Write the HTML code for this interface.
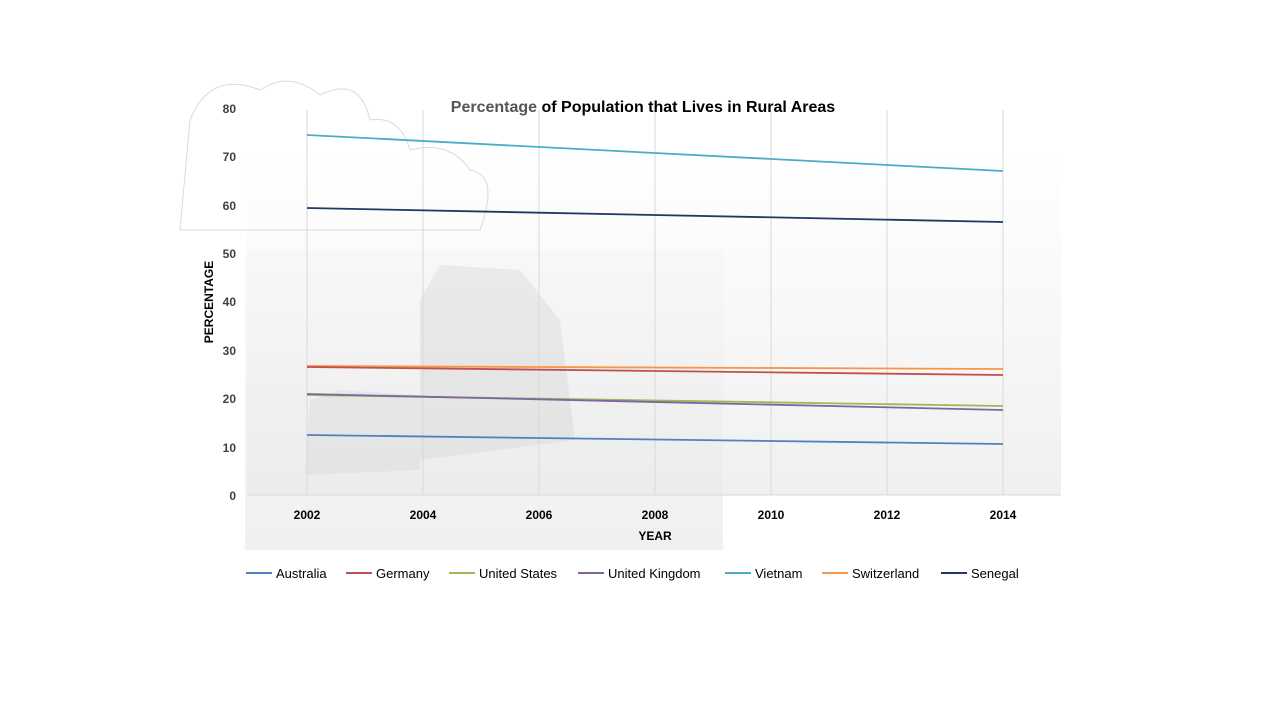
<!DOCTYPE html>
<html><head><meta charset="utf-8"><style>
body{margin:0;width:1280px;height:720px;background:#fff;overflow:hidden;font-family:"Liberation Sans",sans-serif}
</style></head><body>
<svg width="1280" height="720" xmlns="http://www.w3.org/2000/svg" font-family="Liberation Sans, sans-serif">
<defs>
<linearGradient id="bg" x1="0" y1="0" x2="0" y2="1">
<stop offset="0" stop-color="#ffffff"/><stop offset="1" stop-color="#f0f0f0"/>
</linearGradient>
<linearGradient id="sk" x1="0" y1="0" x2="0" y2="1">
<stop offset="0" stop-color="#f6f6f6"/><stop offset="1" stop-color="#e6e6e6"/>
</linearGradient>
</defs>
<rect x="247" y="150" width="814" height="345" fill="url(#bg)"/>
<rect x="245" y="250" width="478" height="300" fill="url(#sk)" opacity="0.6"/>
<polygon points="420,300 440,265 520,270 560,320 575,440 420,460" fill="#d0d0d0" opacity="0.35"/>
<polygon points="310,400 340,390 420,395 420,470 305,475" fill="#cfcfcf" opacity="0.3"/>
<g fill="none" stroke="#ccc" stroke-width="1" opacity="0.7">
<path d="M190,120 q20,-50 70,-30 q30,-20 60,5 q40,-20 50,25 q30,-5 40,30 q40,-10 60,20 q30,5 10,60 l-300,0 z"/>
</g>
<g stroke="#d9d9d9" stroke-width="1">
<line x1="307" y1="110" x2="307" y2="495"/><line x1="423" y1="110" x2="423" y2="495"/>
<line x1="539" y1="110" x2="539" y2="495"/><line x1="655" y1="110" x2="655" y2="495"/>
<line x1="771" y1="110" x2="771" y2="495"/><line x1="887" y1="110" x2="887" y2="495"/>
<line x1="1003" y1="110" x2="1003" y2="495"/>
</g>
<line x1="247" y1="495" x2="1061" y2="495" stroke="#d9d9d9"/>
<g font-size="12" font-weight="bold" fill="#404040" text-anchor="end">
<text x="236" y="113">80</text><text x="236" y="161">70</text><text x="236" y="210">60</text>
<text x="236" y="258">50</text><text x="236" y="306">40</text><text x="236" y="355">30</text>
<text x="236" y="403">20</text><text x="236" y="452">10</text><text x="236" y="500">0</text>
</g>
<g font-size="12" font-weight="bold" fill="#000" text-anchor="middle">
<text x="307" y="519">2002</text><text x="423" y="519">2004</text><text x="539" y="519">2006</text>
<text x="655" y="519">2008</text><text x="771" y="519">2010</text><text x="887" y="519">2012</text>
<text x="1003" y="519">2014</text>
<text x="655" y="540">YEAR</text>
</g>
<text transform="translate(213,302) rotate(-90)" font-size="12" font-weight="bold" text-anchor="middle">PERCENTAGE</text>
<text x="643" y="112" font-size="16" font-weight="bold" text-anchor="middle" fill="#000"><tspan fill="#555">Percentage</tspan> of Population that Lives in Rural Areas</text>
<g fill="none" stroke-width="1.8">
<polyline points="307,135 1003,171" stroke="#4bacc6"/>
<polyline points="307,208 1003,222" stroke="#1f3864"/>
<polyline points="307,366 1003,369" stroke="#f79646"/>
<polyline points="307,367 1003,375" stroke="#c0504d"/>
<polyline points="307,395 1003,406" stroke="#9bbb59"/>
<polyline points="307,394 1003,410" stroke="#8064a2"/>
<polyline points="307,435 1003,444" stroke="#4f81bd"/>
</g>
<g font-size="13" fill="#000">
<line x1="246" y1="573" x2="272" y2="573" stroke="#4f81bd" stroke-width="2"/><text x="276" y="578">Australia</text>
<line x1="346" y1="573" x2="372" y2="573" stroke="#c0504d" stroke-width="2"/><text x="376" y="578">Germany</text>
<line x1="449" y1="573" x2="475" y2="573" stroke="#9bbb59" stroke-width="2"/><text x="479" y="578">United States</text>
<line x1="578" y1="573" x2="604" y2="573" stroke="#8064a2" stroke-width="2"/><text x="608" y="578">United Kingdom</text>
<line x1="725" y1="573" x2="751" y2="573" stroke="#4bacc6" stroke-width="2"/><text x="755" y="578">Vietnam</text>
<line x1="822" y1="573" x2="848" y2="573" stroke="#f79646" stroke-width="2"/><text x="852" y="578">Switzerland</text>
<line x1="941" y1="573" x2="967" y2="573" stroke="#1f3864" stroke-width="2"/><text x="971" y="578">Senegal</text>
</g>
</svg>
</body></html>
